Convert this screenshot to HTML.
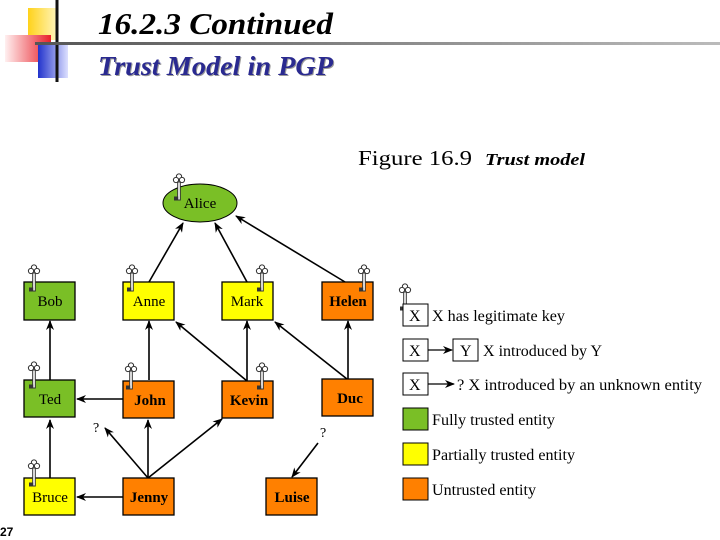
<!DOCTYPE html>
<html><head><meta charset="utf-8"><style>
body{margin:0;width:720px;height:540px;overflow:hidden;background:#fff}
svg{display:block}
text{font-family:"Liberation Serif",serif}
</style></head><body>
<svg width="720" height="540" viewBox="0 0 720 540" xmlns="http://www.w3.org/2000/svg">
<defs>
<linearGradient id="yg" x1="0" x2="1"><stop offset="0" stop-color="#ffd21a"/><stop offset="1" stop-color="#fff6c0"/></linearGradient>
<linearGradient id="rg" x1="0" x2="1"><stop offset="0" stop-color="#fff0f0"/><stop offset="1" stop-color="#e8202a"/></linearGradient>
<linearGradient id="bg" x1="0" x2="1"><stop offset="0" stop-color="#2233cc"/><stop offset="1" stop-color="#dde0ff"/></linearGradient>
<linearGradient id="lg" x1="0" x2="1"><stop offset="0" stop-color="#555"/><stop offset="1" stop-color="#bbb"/></linearGradient>
<marker id="ar" markerWidth="10" markerHeight="8" refX="9" refY="4" orient="auto" markerUnits="userSpaceOnUse"><path d="M0,0 L10,4 L0,8 L3,4z" fill="#000"/></marker>
<g id="key" fill="#fff" stroke="#333" stroke-width="1">
<circle cx="0" cy="-3.5" r="2.6"/><circle cx="-3" cy="0" r="2.6"/><circle cx="3" cy="0" r="2.6"/>
<rect x="-1.3" y="2" width="2.6" height="18"/><rect x="-4.5" y="17" width="3.2" height="3" fill="#333"/>
</g>
</defs>
<rect x="28" y="8" width="30" height="32" fill="url(#yg)"/>
<rect x="5" y="35" width="46" height="27" fill="url(#rg)"/>
<rect x="38" y="44" width="30" height="34" fill="url(#bg)"/>
<line x1="57" y1="0" x2="57" y2="82" stroke="#111" stroke-width="3"/>
<rect x="35" y="42" width="685" height="3" fill="url(#lg)"/>
<text x="98" y="34" font-size="31" font-weight="bold" font-style="italic" textLength="235" lengthAdjust="spacingAndGlyphs">16.2.3  Continued</text>
<text x="99" y="76" font-size="27" font-weight="bold" font-style="italic" fill="#999" textLength="235" lengthAdjust="spacingAndGlyphs">Trust Model in PGP</text>
<text x="98" y="75" font-size="27" font-weight="bold" font-style="italic" fill="#2a2a90" textLength="235" lengthAdjust="spacingAndGlyphs">Trust Model in PGP</text>
<text x="358" y="165" font-size="21" textLength="114" lengthAdjust="spacingAndGlyphs">Figure 16.9</text>
<text x="485" y="165" font-size="17" font-weight="bold" font-style="italic" textLength="100" lengthAdjust="spacingAndGlyphs">Trust model</text>

<g stroke="#000" stroke-width="1.6" fill="none" marker-end="url(#ar)">
<line x1="149" y1="282" x2="183" y2="223"/>
<line x1="247" y1="282" x2="215" y2="223"/>
<line x1="345" y1="282" x2="236" y2="216"/>
<line x1="50" y1="380" x2="50" y2="321"/>
<line x1="149" y1="380" x2="149" y2="321"/>
<line x1="247" y1="381" x2="176" y2="322"/>
<line x1="247" y1="381" x2="247" y2="321"/>
<line x1="347" y1="379" x2="275" y2="322"/>
<line x1="348" y1="379" x2="348" y2="321"/>
<line x1="123" y1="399" x2="77" y2="399"/>
<line x1="148" y1="478" x2="105" y2="428"/>
<line x1="148" y1="478" x2="148" y2="420"/>
<line x1="148" y1="478" x2="222" y2="419"/>
<line x1="123" y1="497" x2="77" y2="497"/>
<line x1="50" y1="478" x2="50" y2="420"/>
<line x1="318" y1="443" x2="292" y2="477"/>
</g>
<text x="93" y="432" font-size="14">?</text>
<text x="320" y="437" font-size="14">?</text>

<ellipse cx="200" cy="203" rx="37" ry="19" fill="#7abf26" stroke="#000"/>
<text x="200" y="208" font-size="15" text-anchor="middle">Alice</text>
<g stroke="#000" stroke-width="1.3">
<rect x="24" y="282" width="51" height="38" fill="#7abf26"/>
<rect x="123" y="282" width="51" height="38" fill="#ffff00"/>
<rect x="222" y="282" width="51" height="38" fill="#ffff00"/>
<rect x="322" y="282" width="51" height="38" fill="#ff8000"/>
<rect x="24" y="380" width="51" height="37" fill="#7abf26"/>
<rect x="123" y="381" width="51" height="37" fill="#ff8000"/>
<rect x="222" y="381" width="51" height="37" fill="#ff8000"/>
<rect x="322" y="379" width="51" height="37" fill="#ff8000"/>
<rect x="24" y="478" width="51" height="37" fill="#ffff00"/>
<rect x="123" y="478" width="51" height="37" fill="#ff8000"/>
<rect x="266" y="478" width="51" height="37" fill="#ff8000"/>
</g>
<g font-size="15" text-anchor="middle">
<text x="50" y="306">Bob</text>
<text x="149" y="306">Anne</text>
<text x="247" y="306">Mark</text>
<text x="348" y="306" font-weight="bold">Helen</text>
<text x="50" y="404">Ted</text>
<text x="150" y="405" font-weight="bold">John</text>
<text x="249" y="405" font-weight="bold">Kevin</text>
<text x="350" y="403" font-weight="bold">Duc</text>
<text x="50" y="502">Bruce</text>
<text x="149" y="502" font-weight="bold">Jenny</text>
<text x="292" y="502" font-weight="bold">Luise</text>
</g>
<use href="#key" x="179" y="180"/>
<use href="#key" x="34" y="271"/>
<use href="#key" x="132" y="271"/>
<use href="#key" x="262" y="271"/>
<use href="#key" x="364" y="271"/>
<use href="#key" x="34" y="368"/>
<use href="#key" x="131" y="369"/>
<use href="#key" x="262" y="369"/>
<use href="#key" x="34" y="466"/>
<use href="#key" x="405" y="290"/>

<g stroke="#000" stroke-width="1" fill="#fff">
<rect x="403" y="304" width="25" height="22"/>
<rect x="403" y="339" width="25" height="22"/>
<rect x="453" y="339" width="25" height="22"/>
<rect x="403" y="373" width="25" height="22"/>
<rect x="403" y="408" width="25" height="22" fill="#7abf26"/>
<rect x="403" y="443" width="25" height="22" fill="#ffff00"/>
<rect x="403" y="478" width="25" height="22" fill="#ff8000"/>
</g>
<g stroke="#000" stroke-width="1.3" marker-end="url(#ar)">
<line x1="428" y1="350" x2="452" y2="350"/>
<line x1="428" y1="384" x2="454" y2="384"/>
</g>
<g font-size="16">
<text x="409" y="321">X</text><text x="432" y="321" textLength="133" lengthAdjust="spacingAndGlyphs">X has legitimate key</text>
<text x="409" y="356">X</text><text x="460" y="356">Y</text><text x="483" y="356" textLength="119" lengthAdjust="spacingAndGlyphs">X introduced by Y</text>
<text x="409" y="390">X</text><text x="457" y="390" textLength="245" lengthAdjust="spacingAndGlyphs">?  X introduced by an unknown entity</text>
<text x="432" y="425" textLength="123" lengthAdjust="spacingAndGlyphs">Fully trusted entity</text>
<text x="432" y="460" textLength="143" lengthAdjust="spacingAndGlyphs">Partially trusted entity</text>
<text x="432" y="495" textLength="104" lengthAdjust="spacingAndGlyphs">Untrusted entity</text>
</g>
<text x="0" y="536" font-size="12" font-weight="bold" style="font-family:'Liberation Sans',sans-serif">27</text>
</svg>
</body></html>
